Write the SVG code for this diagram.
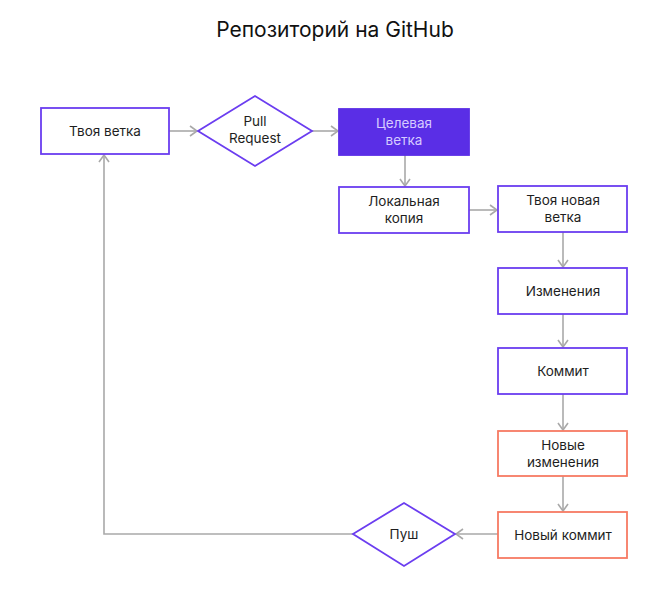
<svg xmlns="http://www.w3.org/2000/svg" width="659" height="592" viewBox="0 0 659 592">
<style>
.bg{fill:#ffffff}
.node{fill:#ffffff;stroke:#6b3df0;stroke-width:1.8}
.orange{fill:#ffffff;stroke:#f77a63;stroke-width:1.8}
.target{fill:#5a2ee6;stroke:#5a2ee6;stroke-width:1.8}
.t{font-family:"Inter","Liberation Sans",sans-serif;font-size:13.5px;fill:#1e1e1e;text-anchor:middle}
.tl{fill:#d6cbff}
.title{font-family:"Inter","Liberation Sans",sans-serif;font-size:21px;fill:#111;text-anchor:middle}
.c{fill:none;stroke:#a9a9a9;stroke-width:1.6}
</style>
<defs>
<marker id="ah" viewBox="0 0 12 12" refX="11" refY="6" markerWidth="12" markerHeight="12" markerUnits="userSpaceOnUse" orient="auto">
<path d="M4,1 L11,6 L4,11" fill="none" stroke="#a9a9a9" stroke-width="1.6"/>
</marker>
</defs>
<rect class="bg" x="0" y="0" width="659" height="592"/>
<text class="title" x="335" y="37">Репозиторий на GitHub</text>
<g id="connectors">
<line class="c" x1="169" y1="131" x2="197" y2="131" marker-end="url(#ah)"/>
<line class="c" x1="312" y1="131" x2="338" y2="131" marker-end="url(#ah)"/>
<line class="c" x1="405" y1="155" x2="405" y2="186" marker-end="url(#ah)"/>
<line class="c" x1="469" y1="210" x2="497" y2="210" marker-end="url(#ah)"/>
<line class="c" x1="563" y1="232" x2="563" y2="267" marker-end="url(#ah)"/>
<line class="c" x1="563" y1="314" x2="563" y2="347" marker-end="url(#ah)"/>
<line class="c" x1="563" y1="394" x2="563" y2="430" marker-end="url(#ah)"/>
<line class="c" x1="563" y1="476" x2="563" y2="511" marker-end="url(#ah)"/>
<line class="c" x1="498" y1="534" x2="456" y2="534" marker-end="url(#ah)"/>
<polyline class="c" points="353,534 104,534 104,155" marker-end="url(#ah)"/>
</g>
<g id="n-your-branch">
<rect class="node" x="41" y="108" width="128" height="46"/>
<text class="t" x="105" y="136">Твоя ветка</text>
</g>
<g id="n-pull-request">
<polygon class="node" points="198,131 255,96 312,131 255,166"/>
<text class="t" x="255" y="126">Pull</text>
<text class="t" x="255" y="143">Request</text>
</g>
<g id="n-target">
<rect class="target" x="339" y="109" width="130" height="46"/>
<text class="t tl" x="404" y="128">Целевая</text>
<text class="t tl" x="404" y="145">ветка</text>
</g>
<g id="n-local">
<rect class="node" x="339" y="187" width="130" height="46"/>
<text class="t" x="404" y="206">Локальная</text>
<text class="t" x="404" y="223">копия</text>
</g>
<g id="n-new-branch">
<rect class="node" x="498" y="186" width="129" height="46"/>
<text class="t" x="563" y="205">Твоя новая</text>
<text class="t" x="563" y="222">ветка</text>
</g>
<g id="n-changes">
<rect class="node" x="498" y="268" width="129" height="46"/>
<text class="t" x="563" y="296">Изменения</text>
</g>
<g id="n-commit">
<rect class="node" x="498" y="348" width="129" height="46"/>
<text class="t" x="563" y="376">Коммит</text>
</g>
<g id="n-new-changes">
<rect class="orange" x="498" y="431" width="129" height="45"/>
<text class="t" x="563" y="450">Новые</text>
<text class="t" x="563" y="467">изменения</text>
</g>
<g id="n-new-commit">
<rect class="orange" x="498" y="512" width="129" height="46"/>
<text class="t" x="563" y="540">Новый коммит</text>
</g>
<g id="n-push">
<polygon class="node" points="353,534 404,503 455,534 404,566"/>
<text class="t" x="404" y="539">Пуш</text>
</g>
</svg>
